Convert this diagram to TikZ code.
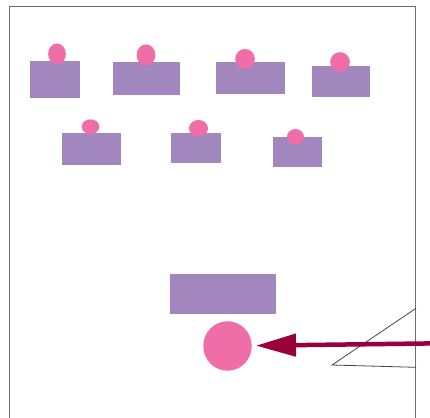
\documentclass[tikz,border=0pt]{standalone}
\usetikzlibrary{arrows.meta,shapes.geometric}
\definecolor{boxpurple}{RGB}{161,135,189}
\definecolor{dotpink}{RGB}{240,110,168}
\definecolor{arrowred}{RGB}{153,0,56}
\definecolor{framegray}{RGB}{110,110,110}
\definecolor{linegray}{RGB}{70,70,70}
\tikzset{
  pbox/.style={rectangle, fill=boxpurple, draw=none, inner sep=0pt, anchor=center},
  pdot/.style={ellipse, fill=dotpink, draw=none, inner sep=0pt, anchor=center},
  thinline/.style={draw=linegray, line width=0.8pt},
  bigarrow/.style={draw=arrowred, line width=4.5pt, -{Triangle[length=40pt,width=22pt]}, shorten >=4pt}
}
\begin{document}
\begin{tikzpicture}[x=1pt,y=-1pt]
\useasboundingbox (0,0) rectangle (430,417);
\fill[white] (0,0) rectangle (430,417);
% frame
\draw[framegray, line width=1pt] (9,430) -- (9,6.3) -- (415.7,6.3) -- (415.7,430);
% top row
\node[pbox, minimum width=50pt, minimum height=36.7pt] (b1) at (55.3,79.7) {};
\node[pbox, minimum width=67.3pt, minimum height=32.7pt] (b2) at (146.7,78.7) {};
\node[pbox, minimum width=68.7pt, minimum height=31.3pt] (b3) at (250.7,78) {};
\node[pbox, minimum width=58.3pt, minimum height=31pt] (b4) at (341.2,81.5) {};
\node[pdot, minimum width=17.7pt, minimum height=21pt] (d1) at (57,54) {};
\node[pdot, minimum width=18.7pt, minimum height=21.3pt] (d2) at (146,55) {};
\node[pdot, minimum width=19.7pt, minimum height=20pt] (d3) at (245,59) {};
\node[pdot, minimum width=19.7pt, minimum height=19.7pt] (d4) at (340,62) {};
% second row
\node[pbox, minimum width=59pt, minimum height=32.3pt] (b5) at (91.5,148.8) {};
\node[pbox, minimum width=49.7pt, minimum height=30.3pt] (b6) at (196.2,148.2) {};
\node[pbox, minimum width=49pt, minimum height=29.4pt] (b7) at (297.2,152) {};
\node[pdot, minimum width=17.7pt, minimum height=14.7pt] (d5) at (90.5,126.7) {};
\node[pdot, minimum width=19pt, minimum height=16.7pt] (d6) at (198.5,128.3) {};
\node[pdot, minimum width=17pt, minimum height=15.3pt] (d7) at (295.5,136.7) {};
% bottom
\node[pbox, minimum width=105.7pt, minimum height=40pt] (big) at (222.9,294.3) {};
\node[pdot, minimum width=48.5pt, minimum height=49.5pt] (ball) at (227.5,346) {};
% angle lines
\coordinate (apex) at (332,365);
\coordinate (up) at (416,308.3);
\coordinate (low) at (416,367.3);
\draw[thinline] (up) -- (apex) -- (low);
% arrow
\coordinate (astart) at (432,343.4);
\draw[bigarrow] (astart) -- (ball);
\end{tikzpicture}
\end{document}
